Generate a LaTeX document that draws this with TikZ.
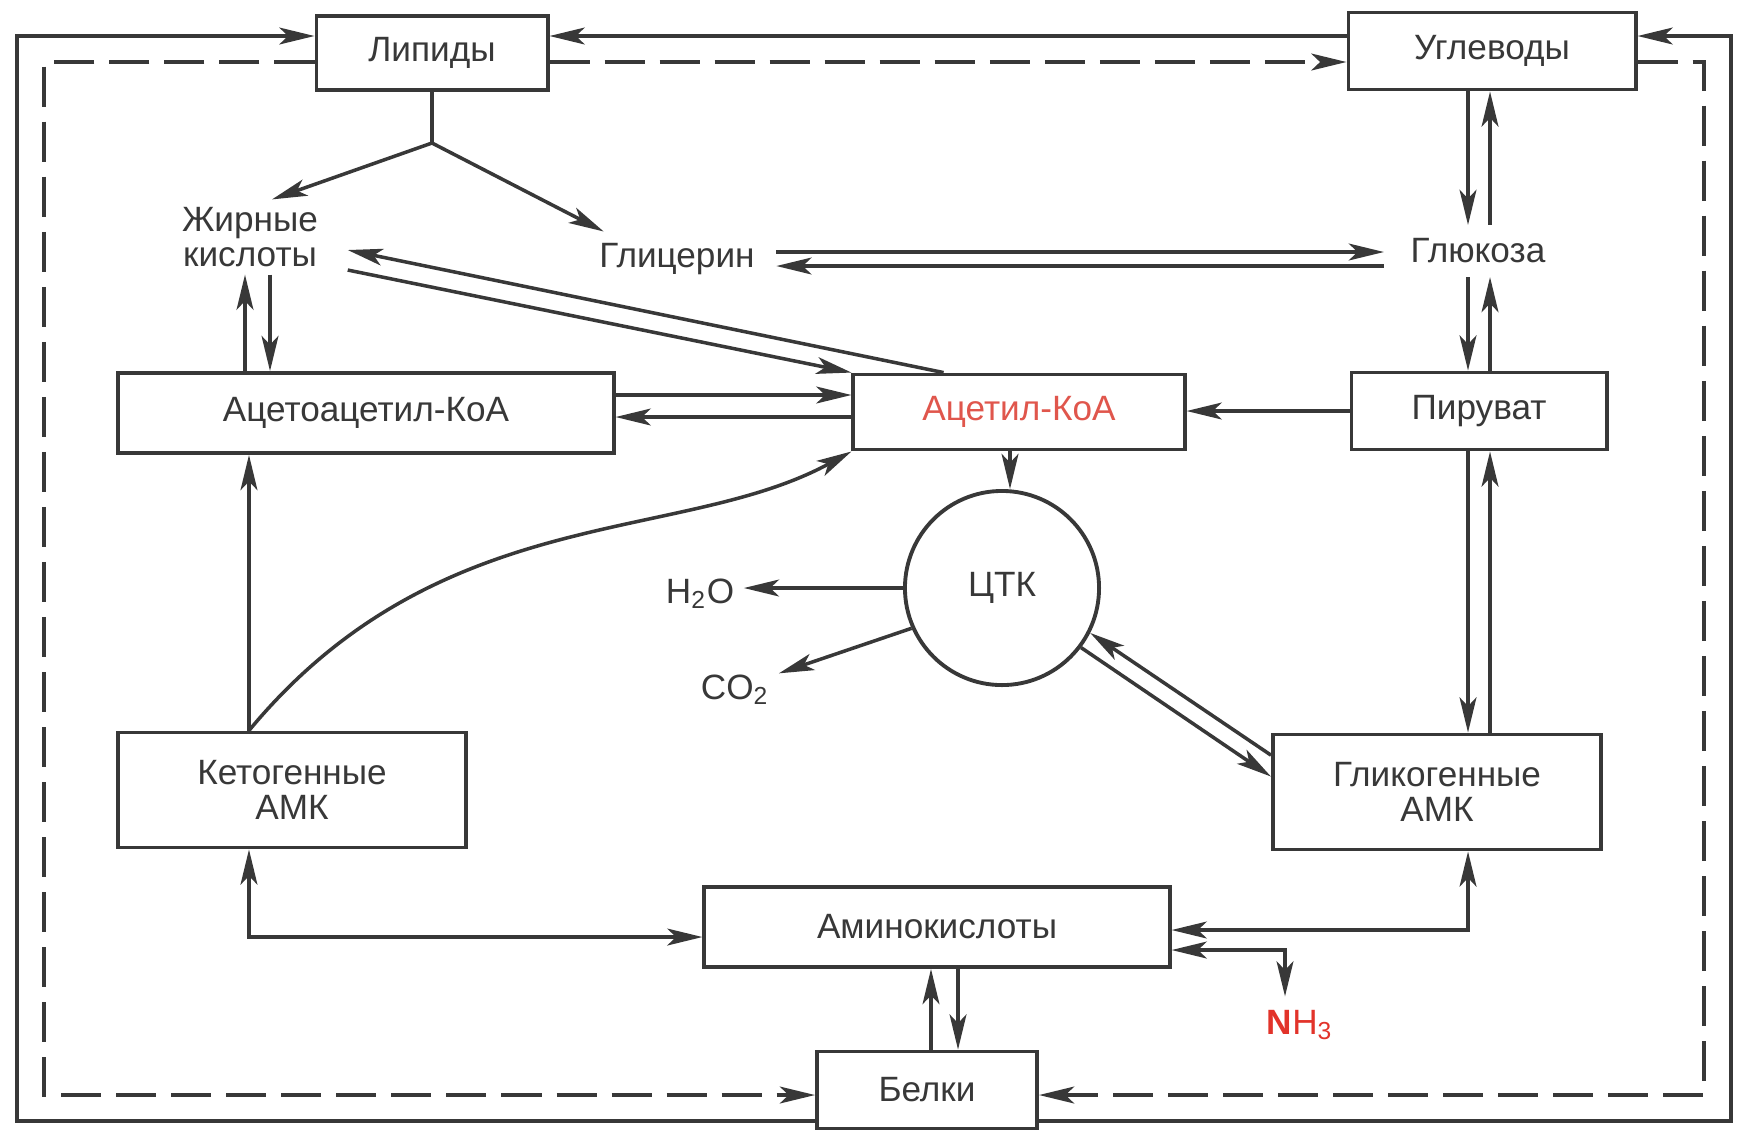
\documentclass[tikz,border=0pt]{standalone}
\usepackage{fontspec}
\setmainfont{Liberation Sans}
\usetikzlibrary{arrows.meta}
\usetikzlibrary{calc}
\definecolor{ink}{HTML}{383838}
\definecolor{acred}{HTML}{E0564C}
\definecolor{nred}{HTML}{E2332A}

\begin{document}
\begin{tikzpicture}
  [x=0.01cm,y=-0.01cm,line width=1pt,color=ink,
   font=\fontsize{10}{10}\selectfont,
   box/.style={draw=ink,fill=white,rectangle,line width=1.1pt,align=center,inner sep=0pt},
   lbl/.style={align=center,inner xsep=0.2cm,inner ysep=0.08cm},
   arr/.style={-{Stealth[length=10pt,width=4.8pt,inset=2.5pt]}},
   arrs/.style={{Stealth[length=10pt,width=4.8pt,inset=2.5pt]}-{Stealth[length=10pt,width=4.8pt,inset=2.5pt]}},
   flow/.style={dash pattern=on 0.4cm off 0.15cm}]
  \useasboundingbox (0,0) rectangle (1740,1132);

  \node (lip)[box,minimum width=2.31cm,minimum height=0.74cm] at (432,53) {Липиды};
  \node (carb)[box,minimum width=2.87cm,minimum height=0.77cm] at (1492,51) {Углеводы};
  \node (fa)[lbl,inner xsep=0.28cm,inner ysep=0.06cm] at (250,237) {Жирные\\кислоты};
  \node (gly)[lbl,inner ysep=0.1cm] at (677,259) {Глицерин};
  \node (glu)[lbl,inner xsep=0.25cm,inner ysep=0.12cm] at (1478,251) {Глюкоза};

  \node (aca)[box,minimum width=4.95cm,minimum height=0.8cm] at (366,413) {Ацетоацетил-КоА};
  \node (acetyl)[box,text=acred,minimum width=3.31cm,minimum height=0.75cm] at (1019,412) {Ацетил-КоА};
  \node (pyr)[box,minimum width=2.55cm,minimum height=0.77cm] at (1479,411) {Пируват};

  \node (tca)[draw,circle,minimum size=1.94cm,line width=1.1pt] at (1002,588) {ЦТК};
  \node (h2o)[lbl,inner sep=0.08cm] at (700,594) {H\textsubscript{2}O};
  \node (co2)[lbl,inner sep=0.08cm] at (735,690) {CO\textsubscript{2}};

  \node (keto)[box,minimum width=3.47cm,minimum height=1.15cm] at (292,790) {Кетогенные\\АМК};
  \node (glyc)[box,minimum width=3.28cm,minimum height=1.15cm] at (1437,792) {Гликогенные\\АМК};
  \node (amino)[box,minimum width=4.65cm,minimum height=0.8cm] at (937,927) {Аминокислоты};
  \node (nh3)[lbl,text=nred,inner sep=0.12cm] at (1300,1025) {\textbf{N}H\textsubscript{3}};
  \node (belki)[box,minimum width=2.2cm,minimum height=0.77cm] at (927,1090) {Белки};

  \coordinate (otl) at (17,36);
  \coordinate (obl) at (17,1121);
  \coordinate (otr) at (1731,36);
  \coordinate (obr) at (1731,1121);
  \coordinate (dtl) at (44,62);
  \coordinate (dbl) at (44,1095);
  \coordinate (dtr) at (1704,62);
  \coordinate (dbr) at (1704,1095);
  \coordinate (split) at (432,143);

  \draw[arr] (belki.west |- obl) -- (obl) -- (otl) -- (lip.west |- otl);
  \draw[arr] (belki.east |- obr) -- (obr) -- (otr) -- (carb.east |- otr);
  \draw[arr] (carb.west |- otr) -- (lip.east |- otl);
  \draw[arr,flow] (lip.west |- dtl) -- (dtl) -- (dbl) -- (belki.west |- dbl);
  \draw[arr,flow] (lip.east |- dtl) -- (carb.west |- dtr);
  \draw[arr,flow] (carb.east |- dtr) -- (dtr) -- (dbr) -- (belki.east |- dbr);

  \draw (lip.south) -- (split);
  \draw[arr] (split) -- ([xshift=0.22cm]fa.north);
  \draw[arr] (split) -- ([xshift=0.26cm]gly.north west);
  \draw[arr] ([yshift=0.07cm]gly.east) -- ([yshift=0.07cm]gly.east -| glu.west);
  \draw[arr] ([yshift=-0.07cm]gly.east -| glu.west) -- ([yshift=-0.07cm]gly.east);

  \foreach \dx/\from/\to in {-0.11cm/carb.south/glu.north,0.11cm/glu.north/carb.south,
                              -0.11cm/glu.south/pyr.north,0.11cm/pyr.north/glu.south,
                              -0.11cm/pyr.south/glyc.north,0.11cm/glyc.north/pyr.south}
    \draw[arr] ([xshift=\dx]pyr.north |- \from) -- ([xshift=\dx]pyr.north |- \to);

  \draw[arr] (pyr.west) -- (pyr.west -| acetyl.east);
  \draw[arr] ([yshift=0.18cm]aca.east) -- ([yshift=0.18cm]aca.east -| acetyl.west);
  \draw[arr] ([yshift=-0.04cm]aca.east -| acetyl.west) -- ([yshift=-0.04cm]aca.east);
  \draw[arr] ([xshift=-0.05cm]fa.south |- aca.north) -- ([xshift=-0.05cm]fa.south);
  \draw[arr] ([xshift=0.2cm]fa.south) -- ([xshift=0.2cm]fa.south |- aca.north);
  \draw[arr] ([xshift=0.92cm]acetyl.north west) -- ([yshift=-0.13cm]fa.east);
  \draw[arr] ([yshift=-0.33cm]fa.east) -- (acetyl.north west);

  \draw[arr] ([xshift=0.08cm]tca.north |- acetyl.south) -- ([xshift=0.08cm]tca.north);
  \draw[arr] (tca.west) -- (tca.west -| h2o.east);
  \draw[arr] (tca.204) -- ([yshift=-0.08cm]co2.north east);
  \draw[arr] ($(glyc.north west)!0.19!(glyc.south west)$) -- (tca.-27);
  \draw[arr] (tca.-37) -- ($(glyc.north west)!0.37!(glyc.south west)$);

  \draw[arr] ([xshift=-0.43cm]keto.north) -- ([xshift=-0.43cm]keto.north |- aca.south);
  \draw[arr] ([xshift=-0.43cm]keto.north) .. controls (440,500) and (680,545) .. (acetyl.south west);
  \draw[arrs] ([xshift=-0.43cm]keto.south) |- ([yshift=-0.1cm]amino.west);
  \draw[arrs] ([xshift=0.31cm]glyc.south) |- ([yshift=-0.03cm]amino.east);
  \draw[arrs] ([yshift=-0.23cm]amino.east) -| ([xshift=-0.15cm]nh3.north);
  \draw[arr] ([xshift=-0.06cm]amino.south |- belki.north) -- ([xshift=-0.06cm]amino.south);
  \draw[arr] ([xshift=0.21cm]amino.south) -- ([xshift=0.21cm]amino.south |- belki.north);
\end{tikzpicture}
\end{document}
